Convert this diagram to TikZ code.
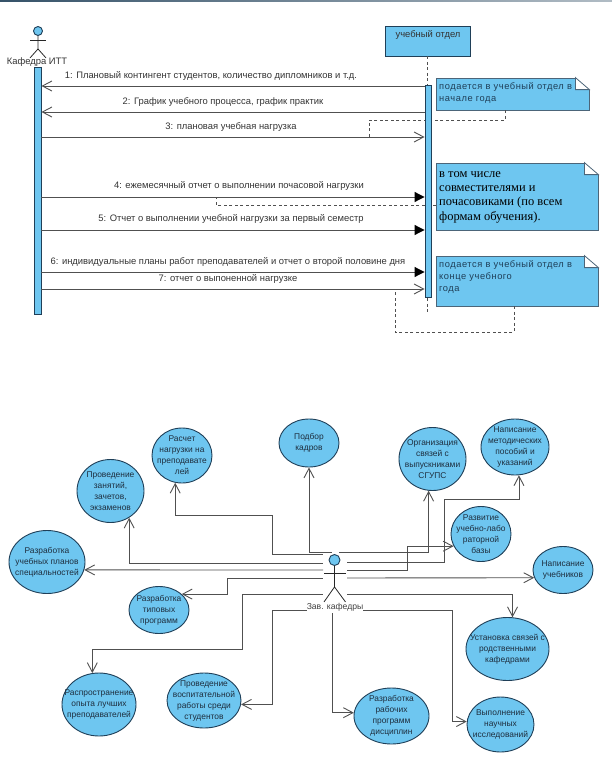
\documentclass[tikz,border=0pt]{standalone}
\usepackage{fontspec}
\setmainfont{Liberation Sans}
\newfontfamily\notefont[LetterSpace=6]{Liberation Sans}
\newfontfamily\bignotefont{Liberation Serif}
\usetikzlibrary{arrows.meta,shapes.geometric}
\definecolor{sky}{HTML}{6EC6F0}
\definecolor{edge}{HTML}{1F3F58}
\definecolor{wire}{HTML}{505050}
\definecolor{ink}{HTML}{1E2E3E}
\tikzset{
    lifebar/.style={draw=edge, fill=sky, line width=0.9pt, minimum width=7pt, inner sep=0pt},
    headbox/.style={draw=edge, fill=sky, line width=0.9pt, inner sep=0pt},
    usec/.style={ellipse, draw=edge, fill=sky, line width=0.9pt, inner sep=0pt},
    usectxt/.style={align=center, inner sep=0pt, text=ink, font=\fontsize{8.4}{11}\selectfont},
    msgtxt/.style={inner sep=0pt, text=black!80, font=\fontsize{9.4}{11}\selectfont},
    notebox/.style={draw=edge!80, fill=sky, line width=0.8pt, inner sep=0pt},
    notetxt/.style={anchor=north west, align=left, inner sep=0pt, text=edge, font=\fontsize{9.3}{12.3}\notefont},
    wirel/.style={draw=wire, line width=0.9pt},
    solidmsg/.style={draw=wire, line width=1pt, -{Triangle[length=10pt,width=10pt,black]}},
    notelink/.style={draw=wire, line width=0.8pt, dash pattern=on 3pt off 2.5pt},
    limb/.style={draw=black!85, line width=0.8pt}
}
\begin{document}
\begin{tikzpicture}[x=1pt,y=-1pt,>={Straight Barb[length=9.5pt,width=10pt]}]
\useasboundingbox (0,0) rectangle (612,760);
\fill[left color=edge!90, right color=edge!35] (0,0) rectangle (612,2);
% sequence part: actor and department box
\node[circle,headbox,minimum size=9pt] (kaf) at (38,31) {};
\draw[limb] (kaf.south) -- ++(0,13) -- ++(-8,9) ++(8,-9) -- ++(8,9);
\draw[limb] (30,40) -- (46,40);
\node[msgtxt] (kaflab) at (37,62) {Кафедра ИТТ};
\node[headbox,minimum width=85pt,minimum height=30pt] (otd) at (427.5,41) {};
\node[msgtxt] (otdlab) at (428,35) {учебный отдел};
\node[lifebar,minimum height=247pt] (lifeK) at (37.5,190.5) {};
\draw[notelink] (otd.south) -- (427.5,314);
% notes
\node[notebox,minimum width=153pt,minimum height=32pt] (nt1) at (512.5,94) {};
\node[notebox,minimum width=162pt,minimum height=67pt] (nt2) at (517,196.5) {};
\node[notebox,minimum width=162pt,minimum height=50pt] (nt3) at (517,281) {};
\foreach \nt in {nt1,nt2,nt3} {%
\fill[white] (\nt.north east) ++(-14,-1) rectangle ++(15,13);
\draw[draw=edge!80,fill=white,line width=0.8pt] (\nt.north east) ++(-14,0) -- ++(0,12) -- ++(14,0) -- cycle;
};
\node[notetxt] (nt1txt) at (439,82) {подается в учебный отдел в\\начале года};
\node[notetxt] (nt3txt) at (439,260) {подается в учебный отдел в\\конце учебного\\года};
\node[notetxt,text=black,font=\fontsize{12.5}{14.4}\bignotefont] (nt2txt) at (439,171) {в том числе\\совместителями и\\почасовиками (по всем\\формам обучения).};
% note links
\draw[notelink] (nt1.south -| 505,0) |- (369,120) -- (369,137);
\draw[notelink] (nt2.west |- 0,205) -| (216,197);
\draw[notelink] (nt3.south -| 514,0) |- (395,332) -- (395,289);
% messages
\node[lifebar,minimum width=6pt,minimum height=212pt] (lifeO) at (428,191) {};
\foreach \y in {86,112} {%
\draw[wirel,<-] (lifeK.east |- 0,\y) -- (lifeO.west |- 0,\y);
};
\foreach \y in {137,289} {%
\draw[wirel,->] (lifeK.east |- 0,\y) -- (lifeO.west |- 0,\y);
};
\foreach \y in {197,230,272} {%
\draw[solidmsg] (lifeK.east |- 0,\y) -- (lifeO.west |- 0,\y);
};
\node[msgtxt] (msg1) at (211,76) {1: Плановый контингент студентов, количество дипломников и т.д.};
\node[msgtxt] (msg2) at (223,102) {2: График учебного процесса, график практик};
\node[msgtxt] (msg3) at (231,127) {3: плановая учебная нагрузка};
\node[msgtxt] (msg4) at (239,186) {4: ежемесячный отчет о выполнении почасовой нагрузки};
\node[msgtxt] (msg5) at (231,219) {5: Отчет о выполнении учебной нагрузки за первый семестр};
\node[msgtxt] (msg6) at (228,262) {6: индивидуальные планы работ преподавателей и отчет о второй половине дня};
\node[msgtxt] (msg7) at (228,279) {7: отчет о выпоненной нагрузке};
% use case part
\foreach \nm/\x/\y/\w/\h/\txt in {%
ras/182/455.5/60/55/{Расчет\\нагрузки на\\преподавате\\лей},
zan/110.5/491/67/63/{Проведение\\занятий,\\зачетов,\\экзаменов},
uch/47/562/76/63/{Разработка\\учебных планов\\специальностей},
tip/159/610/60/47/{Разработка\\типовых\\программ},
opt/99/704.5/74/63/{Распространение\\опыта лучших\\преподавателей},
vos/204/700.5/74/55/{Проведение\\воспитательной\\работы среди\\студентов},
pod/309/443/60/48/{Подбор\\кадров},
org/432.5/459/67/63/{Организация\\связей с\\выпускниками\\СГУПС},
met/515/447/68/56/{Написание\\методических\\пособий и\\указаний},
raz/481/534/60/55/{Развитие\\учебно-лабо\\раторной\\базы},
ubn/563/570/60/47/{Написание\\учебников},
ust/507.5/649/83/63/{Установка связей с\\родственными\\кафедрами},
rab/391.5/716/75/56/{Разработка\\рабочих\\программ\\дисциплин},
vyp/500.5/724.5/67/55/{Выполнение\\научных\\исследований}} {%
\node[usec,minimum width=\w pt,minimum height=\h pt] (\nm) at (\x,\y) {};
\node[usectxt] (\nm txt) at (\nm) {\txt};
};
% actor
\node[circle,headbox,minimum size=11pt] (zav) at (334.5,560) {};
\draw[limb] (zav.south) -- ++(0,21) -- ++(-10.5,15) ++(10.5,-15) -- ++(11,15);
\draw[limb] (324,573) -- (346,573);
\node[msgtxt,text=black!75,font=\fontsize{8.6}{11}\selectfont] (zavlab) at (335,607) {Зав. кафедры};
% free ends at the actor
\foreach \nm/\x/\y in {a1/323/554,a2/323/563,a3/323/570,a4/323/578,a5/323/594,
b1/332/552,b2/339/552,b3/347/562,b4/347/570,b5/347/578,b6/347/594} {%
\coordinate (\nm) at (\x,\y);
};
% links
\draw[wirel,<-] (ras.256) |- (272,515) |- (a1);
\draw[wirel,<-] (zan.305) |- (a2);
\draw[wirel,<-] (uch.348) -- (a3);
\draw[wirel,<-] (tip.35.5) -| (227,578) -- (a4);
\draw[wirel,<-] (opt.102.6) |- (242,649) |- (a5);
\draw[wirel,<-] (vos.354) -| (272,610) -- (zavlab.west |- 0,610);
\draw[wirel,<-] (pod.270) |- (b1);
\draw[wirel,<-] (org.263.6) |- (b2);
\draw[wirel,<-] (met.278) |- (444,499) |- (b3);
\draw[wirel,<-] (raz.204) -| (407,570) -- (b4);
\draw[wirel,<-] (ubn.195.8) -- (b5);
\draw[wirel,<-] (ust.81.8) |- (b6);
\draw[wirel,<-] (rab.175.4) -| (332,613);
\draw[wirel,<-] (vyp.175.7) -| (452,610) -- (zavlab.east |- 0,610);
\end{tikzpicture}
\end{document}
